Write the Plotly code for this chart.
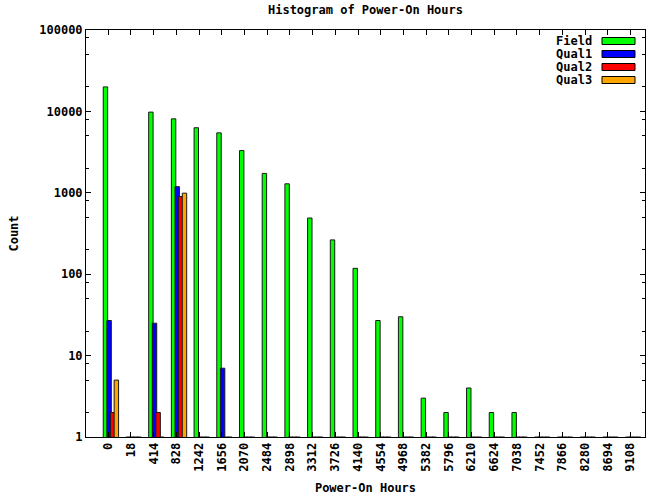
import plotly.graph_objects as go

categories = ["0", "18", "414", "828", "1242", "1656", "2070", "2484", "2898", "3312",
              "3726", "4140", "4554", "4968", "5382", "5796", "6210", "6624", "7038",
              "7452", "7866", "8280", "8694", "9108"]
field = [20000, 1, 9800, 8100, 6300, 5450, 3300, 1730, 1290, 490,
         264, 118, 27, 30, 3, 2, 4, 2, 2, 1, 1, 1, 1, 1]
qual1 = [27, 1, 25, 1190, 1, 7, 1, 1, 1, 1,
         1, 1, 1, 1, 1, 1, 1, 1, 1, 1, 1, 1, 1, 1]
qual2 = [2, 1, 2, 900, 1, 1, 1, 1, 1, 1,
         1, 1, 1, 1, 1, 1, 1, 1, 1, 1, 1, 1, 1, 1]
qual3 = [5, 1, 1, 990, 1, 1, 1, 1, 1, 1,
         1, 1, 1, 1, 1, 1, 1, 1, 1, 1, 1, 1, 1, 1]
series_names = ["Field", "Qual1", "Qual2", "Qual3"]
series_colors = ["#00ff00", "#0000ff", "#ff0000", "#ffa500"]
y_tick_vals = [1, 10, 100, 1000, 10000, 100000]
y_tick_text = ["1", "10", "100", "1000", "10000", "100000"]

FONT = dict(family="DejaVu Sans Mono", size=12, color="black", weight="bold")

W, H = 646, 495
L, R, T, B = 86, 1, 30, 58

fig = go.Figure()
offsets = [-0.22, -0.06, 0.10, 0.26]
bw = 0.195
for name, vals, col, off in zip(series_names, [field, qual1, qual2, qual3], series_colors, offsets):
    fig.add_trace(go.Bar(
        x=categories, y=vals, name=name,
        marker=dict(color=col, line=dict(color="#1a1a1a", width=1)),
        offset=off, width=bw, showlegend=False,
    ))

# minor ticks at 2,5,8 x 10^n
minor_vals = []
for e in range(0, 5):
    for m in (2, 5, 8):
        minor_vals.append(m * 10 ** e)

fig.update_layout(
    width=W, height=H,
    margin=dict(l=L, r=R, t=T, b=B),
    paper_bgcolor="white", plot_bgcolor="white",
    barmode="overlay",
    font=FONT,
    title=dict(text="Histogram of Power-On Hours", x=(L + (W - L - R) / 2) / W, xanchor="center",
               y=1 - 10 / H, yanchor="middle", font=FONT),
    xaxis=dict(
        type="category", categoryorder="array", categoryarray=categories,
        range=[-0.98, 23.64],
        showline=True, linecolor="black", linewidth=1, mirror="ticks",
        ticks="inside", ticklen=5, tickcolor="black", tickwidth=1,
        tickangle=-90, tickfont=FONT, showgrid=False, zeroline=False,
        title=dict(text="Power-On Hours", font=FONT, standoff=12),
    ),
    yaxis=dict(
        type="log", range=[0, 5],
        tickmode="array", tickvals=y_tick_vals, ticktext=y_tick_text,
        showline=True, linecolor="black", linewidth=1, mirror="ticks",
        ticks="inside", ticklen=5, tickcolor="black", tickwidth=1,
        tickfont=FONT, showgrid=False, zeroline=False,
        minor=dict(tickmode="array", tickvals=minor_vals, ticks="inside", ticklen=3,
                   tickcolor="black", tickwidth=1, showgrid=False),
        title=dict(text="Count", font=FONT, standoff=18),
    ),
)

# legend (text left of colour swatch, as in the reference)
pw = W - L - R
ph = H - T - B
row_y = [41, 54, 67, 80]
for name, col, yy in zip(series_names, series_colors, row_y):
    py = (H - B - yy) / ph
    fig.add_annotation(xref="paper", yref="paper", x=(594 - L) / pw, y=py,
                       xanchor="right", yanchor="middle", text=name, showarrow=False,
                       font=FONT)
    fig.add_shape(type="rect", xref="paper", yref="paper",
                  x0=(602 - L) / pw, x1=(635 - L) / pw,
                  y0=py - 3.5 / ph, y1=py + 3.5 / ph,
                  fillcolor=col, line=dict(color="black", width=1))

fig.write_html("out.html")
